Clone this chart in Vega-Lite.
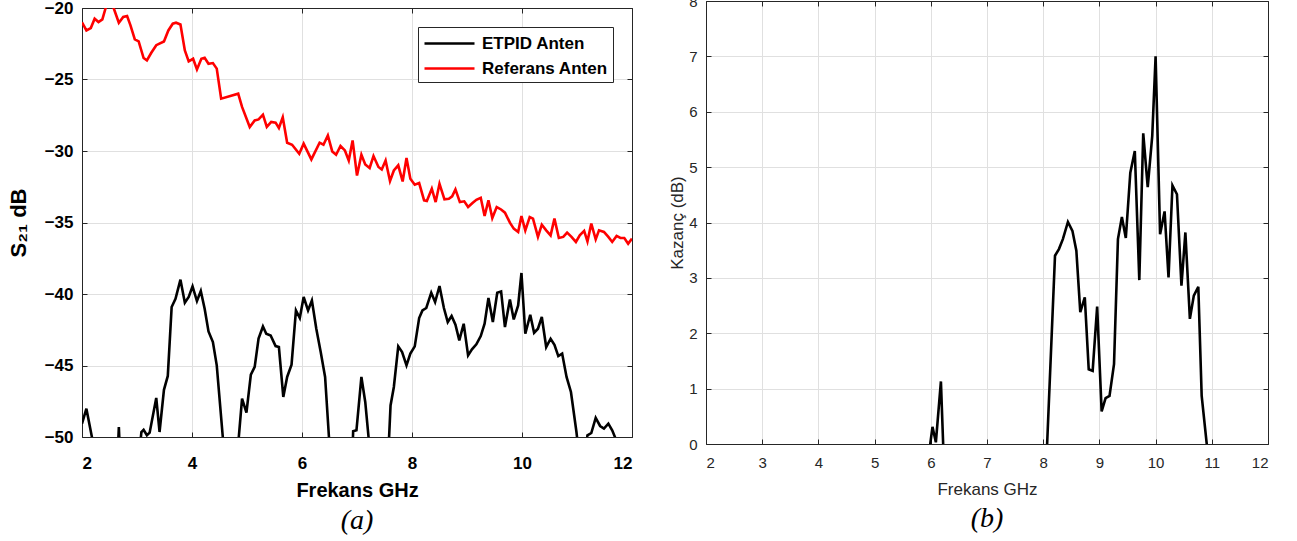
{
  "$schema": "https://vega.github.io/schema/vega-lite/v6.json",
  "background": "white",
  "autosize": {"type": "pad"},
  "padding": {"left": 7, "top": -6, "right": 0, "bottom": 0},
  "config": {
    "view": {"stroke": null},
    "font": "Liberation Sans",
    "axis": {"gridColor": "#e0e0e0", "gridWidth": 1, "domainColor": "#262626", "tickColor": "#262626", "tickSize": -5, "domainWidth": 1}
  },
  "datasets": {
    "s21": [
      {"f": 2.0, "v": -21.0, "s": "Referans Anten"},
      {"f": 2.08, "v": -21.57, "s": "Referans Anten"},
      {"f": 2.16, "v": -21.4, "s": "Referans Anten"},
      {"f": 2.23, "v": -20.75, "s": "Referans Anten"},
      {"f": 2.30, "v": -20.98, "s": "Referans Anten"},
      {"f": 2.37, "v": -20.8, "s": "Referans Anten"},
      {"f": 2.43, "v": -20.0, "s": "Referans Anten"},
      {"f": 2.47, "v": -19.6, "s": "Referans Anten"},
      {"f": 2.53, "v": -19.6, "s": "Referans Anten"},
      {"f": 2.58, "v": -20.05, "s": "Referans Anten"},
      {"f": 2.67, "v": -21.03, "s": "Referans Anten"},
      {"f": 2.75, "v": -20.63, "s": "Referans Anten"},
      {"f": 2.82, "v": -20.56, "s": "Referans Anten"},
      {"f": 2.88, "v": -21.2, "s": "Referans Anten"},
      {"f": 2.96, "v": -22.2, "s": "Referans Anten"},
      {"f": 3.03, "v": -22.34, "s": "Referans Anten"},
      {"f": 3.12, "v": -23.5, "s": "Referans Anten"},
      {"f": 3.18, "v": -23.66, "s": "Referans Anten"},
      {"f": 3.26, "v": -23.13, "s": "Referans Anten"},
      {"f": 3.35, "v": -22.6, "s": "Referans Anten"},
      {"f": 3.49, "v": -22.34, "s": "Referans Anten"},
      {"f": 3.57, "v": -21.57, "s": "Referans Anten"},
      {"f": 3.65, "v": -21.1, "s": "Referans Anten"},
      {"f": 3.71, "v": -21.03, "s": "Referans Anten"},
      {"f": 3.79, "v": -21.15, "s": "Referans Anten"},
      {"f": 3.87, "v": -22.97, "s": "Referans Anten"},
      {"f": 3.94, "v": -23.73, "s": "Referans Anten"},
      {"f": 4.02, "v": -23.55, "s": "Referans Anten"},
      {"f": 4.09, "v": -24.3, "s": "Referans Anten"},
      {"f": 4.17, "v": -23.55, "s": "Referans Anten"},
      {"f": 4.23, "v": -23.48, "s": "Referans Anten"},
      {"f": 4.30, "v": -23.9, "s": "Referans Anten"},
      {"f": 4.38, "v": -23.85, "s": "Referans Anten"},
      {"f": 4.45, "v": -24.24, "s": "Referans Anten"},
      {"f": 4.53, "v": -26.34, "s": "Referans Anten"},
      {"f": 4.84, "v": -25.99, "s": "Referans Anten"},
      {"f": 4.91, "v": -26.92, "s": "Referans Anten"},
      {"f": 5.05, "v": -28.32, "s": "Referans Anten"},
      {"f": 5.14, "v": -27.86, "s": "Referans Anten"},
      {"f": 5.21, "v": -27.79, "s": "Referans Anten"},
      {"f": 5.29, "v": -27.46, "s": "Referans Anten"},
      {"f": 5.36, "v": -28.32, "s": "Referans Anten"},
      {"f": 5.44, "v": -27.97, "s": "Referans Anten"},
      {"f": 5.52, "v": -28.02, "s": "Referans Anten"},
      {"f": 5.58, "v": -28.39, "s": "Referans Anten"},
      {"f": 5.65, "v": -27.65, "s": "Referans Anten"},
      {"f": 5.73, "v": -29.42, "s": "Referans Anten"},
      {"f": 5.82, "v": -29.56, "s": "Referans Anten"},
      {"f": 5.95, "v": -30.19, "s": "Referans Anten"},
      {"f": 6.03, "v": -29.49, "s": "Referans Anten"},
      {"f": 6.17, "v": -30.59, "s": "Referans Anten"},
      {"f": 6.32, "v": -29.42, "s": "Referans Anten"},
      {"f": 6.39, "v": -29.56, "s": "Referans Anten"},
      {"f": 6.47, "v": -28.91, "s": "Referans Anten"},
      {"f": 6.55, "v": -30.03, "s": "Referans Anten"},
      {"f": 6.62, "v": -30.26, "s": "Referans Anten"},
      {"f": 6.70, "v": -29.65, "s": "Referans Anten"},
      {"f": 6.78, "v": -29.96, "s": "Referans Anten"},
      {"f": 6.85, "v": -30.66, "s": "Referans Anten"},
      {"f": 6.92, "v": -29.26, "s": "Referans Anten"},
      {"f": 7.0, "v": -31.72, "s": "Referans Anten"},
      {"f": 7.08, "v": -30.26, "s": "Referans Anten"},
      {"f": 7.15, "v": -30.94, "s": "Referans Anten"},
      {"f": 7.23, "v": -31.19, "s": "Referans Anten"},
      {"f": 7.30, "v": -30.35, "s": "Referans Anten"},
      {"f": 7.39, "v": -31.12, "s": "Referans Anten"},
      {"f": 7.45, "v": -31.29, "s": "Referans Anten"},
      {"f": 7.52, "v": -30.66, "s": "Referans Anten"},
      {"f": 7.60, "v": -32.1, "s": "Referans Anten"},
      {"f": 7.67, "v": -31.36, "s": "Referans Anten"},
      {"f": 7.75, "v": -31.0, "s": "Referans Anten"},
      {"f": 7.83, "v": -32.13, "s": "Referans Anten"},
      {"f": 7.90, "v": -30.49, "s": "Referans Anten"},
      {"f": 7.97, "v": -31.94, "s": "Referans Anten"},
      {"f": 8.05, "v": -32.36, "s": "Referans Anten"},
      {"f": 8.13, "v": -32.24, "s": "Referans Anten"},
      {"f": 8.22, "v": -33.45, "s": "Referans Anten"},
      {"f": 8.27, "v": -33.5, "s": "Referans Anten"},
      {"f": 8.36, "v": -32.64, "s": "Referans Anten"},
      {"f": 8.43, "v": -33.57, "s": "Referans Anten"},
      {"f": 8.50, "v": -32.29, "s": "Referans Anten"},
      {"f": 8.59, "v": -33.38, "s": "Referans Anten"},
      {"f": 8.67, "v": -33.34, "s": "Referans Anten"},
      {"f": 8.73, "v": -33.17, "s": "Referans Anten"},
      {"f": 8.79, "v": -32.68, "s": "Referans Anten"},
      {"f": 8.87, "v": -33.57, "s": "Referans Anten"},
      {"f": 8.95, "v": -33.52, "s": "Referans Anten"},
      {"f": 9.02, "v": -33.92, "s": "Referans Anten"},
      {"f": 9.10, "v": -33.64, "s": "Referans Anten"},
      {"f": 9.17, "v": -33.41, "s": "Referans Anten"},
      {"f": 9.25, "v": -33.27, "s": "Referans Anten"},
      {"f": 9.32, "v": -34.55, "s": "Referans Anten"},
      {"f": 9.39, "v": -33.45, "s": "Referans Anten"},
      {"f": 9.46, "v": -34.69, "s": "Referans Anten"},
      {"f": 9.54, "v": -33.92, "s": "Referans Anten"},
      {"f": 9.62, "v": -34.09, "s": "Referans Anten"},
      {"f": 9.69, "v": -34.31, "s": "Referans Anten"},
      {"f": 9.78, "v": -35.01, "s": "Referans Anten"},
      {"f": 9.85, "v": -35.43, "s": "Referans Anten"},
      {"f": 9.93, "v": -35.66, "s": "Referans Anten"},
      {"f": 9.99, "v": -34.55, "s": "Referans Anten"},
      {"f": 10.06, "v": -35.55, "s": "Referans Anten"},
      {"f": 10.14, "v": -34.62, "s": "Referans Anten"},
      {"f": 10.20, "v": -34.73, "s": "Referans Anten"},
      {"f": 10.29, "v": -36.0, "s": "Referans Anten"},
      {"f": 10.36, "v": -35.15, "s": "Referans Anten"},
      {"f": 10.44, "v": -35.55, "s": "Referans Anten"},
      {"f": 10.52, "v": -35.9, "s": "Referans Anten"},
      {"f": 10.59, "v": -34.73, "s": "Referans Anten"},
      {"f": 10.67, "v": -36.08, "s": "Referans Anten"},
      {"f": 10.75, "v": -36.01, "s": "Referans Anten"},
      {"f": 10.82, "v": -35.71, "s": "Referans Anten"},
      {"f": 10.90, "v": -36.01, "s": "Referans Anten"},
      {"f": 10.98, "v": -36.36, "s": "Referans Anten"},
      {"f": 11.05, "v": -35.9, "s": "Referans Anten"},
      {"f": 11.13, "v": -35.59, "s": "Referans Anten"},
      {"f": 11.19, "v": -36.32, "s": "Referans Anten"},
      {"f": 11.26, "v": -35.08, "s": "Referans Anten"},
      {"f": 11.34, "v": -36.18, "s": "Referans Anten"},
      {"f": 11.40, "v": -35.55, "s": "Referans Anten"},
      {"f": 11.49, "v": -35.66, "s": "Referans Anten"},
      {"f": 11.57, "v": -36.01, "s": "Referans Anten"},
      {"f": 11.64, "v": -36.36, "s": "Referans Anten"},
      {"f": 11.72, "v": -35.94, "s": "Referans Anten"},
      {"f": 11.79, "v": -36.08, "s": "Referans Anten"},
      {"f": 11.86, "v": -36.08, "s": "Referans Anten"},
      {"f": 11.93, "v": -36.48, "s": "Referans Anten"},
      {"f": 12.0, "v": -36.13, "s": "Referans Anten"},
      {"f": 2.0, "v": -49.07, "s": "ETPID Anten"},
      {"f": 2.08, "v": -48.02, "s": "ETPID Anten"},
      {"f": 2.18, "v": -50.0, "s": "ETPID Anten"},
      {"f": 2.25, "v": -51.5, "s": "ETPID Anten"},
      {"f": 2.35, "v": -55, "s": "ETPID Anten"},
      {"f": 2.55, "v": -55, "s": "ETPID Anten"},
      {"f": 2.64, "v": -52, "s": "ETPID Anten"},
      {"f": 2.67, "v": -49.3, "s": "ETPID Anten"},
      {"f": 2.70, "v": -52, "s": "ETPID Anten"},
      {"f": 2.85, "v": -55, "s": "ETPID Anten"},
      {"f": 3.02, "v": -52, "s": "ETPID Anten"},
      {"f": 3.08, "v": -49.65, "s": "ETPID Anten"},
      {"f": 3.12, "v": -49.5, "s": "ETPID Anten"},
      {"f": 3.18, "v": -49.88, "s": "ETPID Anten"},
      {"f": 3.23, "v": -49.7, "s": "ETPID Anten"},
      {"f": 3.35, "v": -47.27, "s": "ETPID Anten"},
      {"f": 3.41, "v": -49.65, "s": "ETPID Anten"},
      {"f": 3.49, "v": -46.7, "s": "ETPID Anten"},
      {"f": 3.56, "v": -45.73, "s": "ETPID Anten"},
      {"f": 3.63, "v": -40.91, "s": "ETPID Anten"},
      {"f": 3.70, "v": -40.33, "s": "ETPID Anten"},
      {"f": 3.79, "v": -39.0, "s": "ETPID Anten"},
      {"f": 3.87, "v": -40.61, "s": "ETPID Anten"},
      {"f": 3.94, "v": -40.21, "s": "ETPID Anten"},
      {"f": 4.01, "v": -39.47, "s": "ETPID Anten"},
      {"f": 4.09, "v": -40.49, "s": "ETPID Anten"},
      {"f": 4.16, "v": -39.79, "s": "ETPID Anten"},
      {"f": 4.23, "v": -41.03, "s": "ETPID Anten"},
      {"f": 4.30, "v": -42.62, "s": "ETPID Anten"},
      {"f": 4.38, "v": -43.36, "s": "ETPID Anten"},
      {"f": 4.45, "v": -44.99, "s": "ETPID Anten"},
      {"f": 4.56, "v": -50.0, "s": "ETPID Anten"},
      {"f": 4.60, "v": -52, "s": "ETPID Anten"},
      {"f": 4.70, "v": -55, "s": "ETPID Anten"},
      {"f": 4.80, "v": -53, "s": "ETPID Anten"},
      {"f": 4.84, "v": -50.5, "s": "ETPID Anten"},
      {"f": 4.91, "v": -47.32, "s": "ETPID Anten"},
      {"f": 4.99, "v": -48.3, "s": "ETPID Anten"},
      {"f": 5.07, "v": -45.64, "s": "ETPID Anten"},
      {"f": 5.14, "v": -45.1, "s": "ETPID Anten"},
      {"f": 5.21, "v": -43.12, "s": "ETPID Anten"},
      {"f": 5.29, "v": -42.27, "s": "ETPID Anten"},
      {"f": 5.35, "v": -42.78, "s": "ETPID Anten"},
      {"f": 5.43, "v": -42.9, "s": "ETPID Anten"},
      {"f": 5.52, "v": -43.64, "s": "ETPID Anten"},
      {"f": 5.58, "v": -43.71, "s": "ETPID Anten"},
      {"f": 5.66, "v": -47.2, "s": "ETPID Anten"},
      {"f": 5.73, "v": -45.8, "s": "ETPID Anten"},
      {"f": 5.81, "v": -44.94, "s": "ETPID Anten"},
      {"f": 5.89, "v": -41.15, "s": "ETPID Anten"},
      {"f": 5.96, "v": -41.68, "s": "ETPID Anten"},
      {"f": 6.03, "v": -40.21, "s": "ETPID Anten"},
      {"f": 6.11, "v": -41.15, "s": "ETPID Anten"},
      {"f": 6.18, "v": -40.45, "s": "ETPID Anten"},
      {"f": 6.26, "v": -42.43, "s": "ETPID Anten"},
      {"f": 6.34, "v": -44.06, "s": "ETPID Anten"},
      {"f": 6.42, "v": -45.8, "s": "ETPID Anten"},
      {"f": 6.49, "v": -50.0, "s": "ETPID Anten"},
      {"f": 6.53, "v": -52, "s": "ETPID Anten"},
      {"f": 6.65, "v": -55, "s": "ETPID Anten"},
      {"f": 6.85, "v": -55, "s": "ETPID Anten"},
      {"f": 6.91, "v": -52, "s": "ETPID Anten"},
      {"f": 6.93, "v": -49.6, "s": "ETPID Anten"},
      {"f": 6.99, "v": -49.53, "s": "ETPID Anten"},
      {"f": 7.08, "v": -45.8, "s": "ETPID Anten"},
      {"f": 7.15, "v": -47.55, "s": "ETPID Anten"},
      {"f": 7.21, "v": -50.0, "s": "ETPID Anten"},
      {"f": 7.25, "v": -52, "s": "ETPID Anten"},
      {"f": 7.40, "v": -55, "s": "ETPID Anten"},
      {"f": 7.55, "v": -53, "s": "ETPID Anten"},
      {"f": 7.58, "v": -50.3, "s": "ETPID Anten"},
      {"f": 7.61, "v": -47.79, "s": "ETPID Anten"},
      {"f": 7.67, "v": -46.5, "s": "ETPID Anten"},
      {"f": 7.75, "v": -43.66, "s": "ETPID Anten"},
      {"f": 7.82, "v": -44.06, "s": "ETPID Anten"},
      {"f": 7.90, "v": -44.99, "s": "ETPID Anten"},
      {"f": 7.97, "v": -44.17, "s": "ETPID Anten"},
      {"f": 8.05, "v": -43.66, "s": "ETPID Anten"},
      {"f": 8.13, "v": -41.68, "s": "ETPID Anten"},
      {"f": 8.19, "v": -41.15, "s": "ETPID Anten"},
      {"f": 8.26, "v": -40.98, "s": "ETPID Anten"},
      {"f": 8.35, "v": -39.91, "s": "ETPID Anten"},
      {"f": 8.42, "v": -40.56, "s": "ETPID Anten"},
      {"f": 8.50, "v": -39.44, "s": "ETPID Anten"},
      {"f": 8.58, "v": -40.98, "s": "ETPID Anten"},
      {"f": 8.65, "v": -41.96, "s": "ETPID Anten"},
      {"f": 8.72, "v": -41.54, "s": "ETPID Anten"},
      {"f": 8.79, "v": -42.15, "s": "ETPID Anten"},
      {"f": 8.86, "v": -43.24, "s": "ETPID Anten"},
      {"f": 8.94, "v": -42.08, "s": "ETPID Anten"},
      {"f": 9.02, "v": -44.29, "s": "ETPID Anten"},
      {"f": 9.09, "v": -43.87, "s": "ETPID Anten"},
      {"f": 9.17, "v": -43.52, "s": "ETPID Anten"},
      {"f": 9.25, "v": -42.94, "s": "ETPID Anten"},
      {"f": 9.32, "v": -42.08, "s": "ETPID Anten"},
      {"f": 9.39, "v": -40.28, "s": "ETPID Anten"},
      {"f": 9.47, "v": -41.96, "s": "ETPID Anten"},
      {"f": 9.55, "v": -39.91, "s": "ETPID Anten"},
      {"f": 9.62, "v": -39.82, "s": "ETPID Anten"},
      {"f": 9.69, "v": -42.31, "s": "ETPID Anten"},
      {"f": 9.78, "v": -40.38, "s": "ETPID Anten"},
      {"f": 9.85, "v": -41.78, "s": "ETPID Anten"},
      {"f": 9.93, "v": -40.8, "s": "ETPID Anten"},
      {"f": 9.99, "v": -38.53, "s": "ETPID Anten"},
      {"f": 10.06, "v": -42.78, "s": "ETPID Anten"},
      {"f": 10.15, "v": -41.45, "s": "ETPID Anten"},
      {"f": 10.22, "v": -42.71, "s": "ETPID Anten"},
      {"f": 10.29, "v": -42.43, "s": "ETPID Anten"},
      {"f": 10.36, "v": -41.61, "s": "ETPID Anten"},
      {"f": 10.44, "v": -43.71, "s": "ETPID Anten"},
      {"f": 10.52, "v": -43.13, "s": "ETPID Anten"},
      {"f": 10.59, "v": -43.55, "s": "ETPID Anten"},
      {"f": 10.66, "v": -44.34, "s": "ETPID Anten"},
      {"f": 10.73, "v": -44.17, "s": "ETPID Anten"},
      {"f": 10.81, "v": -45.8, "s": "ETPID Anten"},
      {"f": 10.89, "v": -46.85, "s": "ETPID Anten"},
      {"f": 10.99, "v": -49.65, "s": "ETPID Anten"},
      {"f": 11.03, "v": -51, "s": "ETPID Anten"},
      {"f": 11.08, "v": -53, "s": "ETPID Anten"},
      {"f": 11.15, "v": -52, "s": "ETPID Anten"},
      {"f": 11.18, "v": -50.2, "s": "ETPID Anten"},
      {"f": 11.19, "v": -49.88, "s": "ETPID Anten"},
      {"f": 11.26, "v": -49.72, "s": "ETPID Anten"},
      {"f": 11.34, "v": -48.67, "s": "ETPID Anten"},
      {"f": 11.42, "v": -49.23, "s": "ETPID Anten"},
      {"f": 11.49, "v": -49.41, "s": "ETPID Anten"},
      {"f": 11.57, "v": -49.07, "s": "ETPID Anten"},
      {"f": 11.64, "v": -49.53, "s": "ETPID Anten"},
      {"f": 11.69, "v": -50.0, "s": "ETPID Anten"},
      {"f": 11.75, "v": -52, "s": "ETPID Anten"},
      {"f": 11.85, "v": -55, "s": "ETPID Anten"},
      {"f": 12.0, "v": -55, "s": "ETPID Anten"}
    ],
    "gain": [
      {"f": 2.0, "v": -2},
      {"f": 5.95, "v": -0.3},
      {"f": 5.99, "v": 0},
      {"f": 6.03, "v": 0.31},
      {"f": 6.09, "v": 0.03},
      {"f": 6.18, "v": 1.13},
      {"f": 6.22, "v": 0},
      {"f": 6.26, "v": -1.1},
      {"f": 7.9, "v": -1.5},
      {"f": 8.0, "v": -1.6},
      {"f": 8.07, "v": 0},
      {"f": 8.21, "v": 3.40},
      {"f": 8.28, "v": 3.52},
      {"f": 8.35, "v": 3.70},
      {"f": 8.44, "v": 4.01},
      {"f": 8.52, "v": 3.85},
      {"f": 8.59, "v": 3.49},
      {"f": 8.66, "v": 2.38},
      {"f": 8.74, "v": 2.65},
      {"f": 8.81, "v": 1.35},
      {"f": 8.88, "v": 1.32},
      {"f": 8.96, "v": 2.48},
      {"f": 9.04, "v": 0.59},
      {"f": 9.11, "v": 0.83},
      {"f": 9.18, "v": 0.87},
      {"f": 9.26, "v": 1.44},
      {"f": 9.33, "v": 3.70},
      {"f": 9.40, "v": 4.10},
      {"f": 9.47, "v": 3.72},
      {"f": 9.55, "v": 4.90},
      {"f": 9.63, "v": 5.29},
      {"f": 9.71, "v": 2.96},
      {"f": 9.78, "v": 5.61},
      {"f": 9.86, "v": 4.64},
      {"f": 9.94, "v": 5.56},
      {"f": 10.0, "v": 7.0},
      {"f": 10.08, "v": 3.79},
      {"f": 10.16, "v": 4.20},
      {"f": 10.23, "v": 3.01},
      {"f": 10.30, "v": 4.67},
      {"f": 10.38, "v": 4.51},
      {"f": 10.46, "v": 2.86},
      {"f": 10.53, "v": 3.82},
      {"f": 10.61, "v": 2.26},
      {"f": 10.68, "v": 2.68},
      {"f": 10.76, "v": 2.84},
      {"f": 10.82, "v": 0.87},
      {"f": 10.91, "v": 0},
      {"f": 11.0, "v": -0.9},
      {"f": 12.0, "v": -2}
    ]
  },
  "hconcat": [
    {
      "width": 550,
      "height": 429,
      "data": {"name": "s21"},
      "title": {"text": "(a)", "orient": "bottom", "anchor": "middle", "font": "Liberation Serif", "fontStyle": "italic", "fontWeight": "normal", "fontSize": 28, "color": "black", "offset": 7},
      "layer": [
        {
          "mark": {"type": "line", "clip": true, "strokeWidth": 2.6},
          "encoding": {
            "x": {"field": "f", "type": "quantitative", "scale": {"domain": [2, 12], "nice": false, "zero": false},
              "axis": {"orient": "bottom", "values": [2, 4, 6, 8, 10, 12], "grid": true, "title": "Frekans GHz", "labelFont": "Liberation Sans", "labelFontWeight": "bold", "labelFontSize": 17, "labelColor": "black", "labelPadding": 23, "titleFont": "Liberation Sans", "titleFontWeight": "bold", "titleFontSize": 20, "titleColor": "black", "titlePadding": 9}},
            "y": {"field": "v", "type": "quantitative", "scale": {"domain": [-50, -20], "nice": false, "zero": false},
              "axis": {"orient": "left", "values": [-50, -45, -40, -35, -30, -25, -20], "grid": true, "title": "S₂₁ dB", "labelFont": "Liberation Sans", "labelFontWeight": "bold", "labelFontSize": 17, "labelColor": "black", "labelPadding": 14, "titleFont": "Liberation Sans", "titleFontWeight": "bold", "titleFontSize": 22, "titleColor": "black", "titlePadding": 14}},
            "color": {"field": "s", "type": "nominal", "scale": {"domain": ["ETPID Anten", "Referans Anten"], "range": ["#000000", "#ff0000"]},
              "legend": {"orient": "none", "legendX": 336, "legendY": 26, "title": null, "fillColor": "white", "strokeColor": "#262626", "padding": 5, "symbolType": "M-1,0H4", "symbolSize": 400, "symbolStrokeWidth": 2.6, "labelFont": "Liberation Sans", "labelFontWeight": "bold", "labelFontSize": 17, "labelColor": "black", "rowPadding": 5, "labelOffset": 36}}
          }
        },
        {
          "mark": {"type": "line", "opacity": 0, "clip": true},
          "encoding": {
            "x": {"field": "f", "type": "quantitative", "scale": {"domain": [2, 12], "nice": false, "zero": false},
              "axis": {"orient": "top", "values": [2, 4, 6, 8, 10, 12], "grid": false, "labels": false, "title": null}},
            "y": {"field": "v", "type": "quantitative", "scale": {"domain": [-50, -20], "nice": false, "zero": false},
              "axis": {"orient": "right", "values": [-50, -45, -40, -35, -30, -25, -20], "grid": false, "labels": false, "title": null}}
          }
        }
      ],
      "resolve": {"axis": {"x": "independent", "y": "independent"}}
    },
    {
      "width": 562,
      "height": 443,
      "data": {"name": "gain"},
      "title": {"text": "(b)", "orient": "bottom", "anchor": "middle", "font": "Liberation Serif", "fontStyle": "italic", "fontWeight": "normal", "fontSize": 28, "color": "black", "offset": 8},
      "layer": [
        {
          "mark": {"type": "line", "clip": true, "strokeWidth": 2.6, "color": "black"},
          "encoding": {
            "x": {"field": "f", "type": "quantitative", "scale": {"domain": [2, 12], "nice": false, "zero": false},
              "axis": {"orient": "bottom", "values": [2, 3, 4, 5, 6, 7, 8, 9, 10, 11, 12], "grid": true, "title": "Frekans GHz", "labelFont": "Liberation Sans", "labelFontWeight": "normal", "labelFontSize": 15, "labelColor": "#262626", "labelPadding": 16, "titleFont": "Liberation Sans", "titleFontWeight": "normal", "titleFontSize": 17, "titleColor": "#262626", "titlePadding": 11}},
            "y": {"field": "v", "type": "quantitative", "scale": {"domain": [0, 8], "nice": false, "zero": false},
              "axis": {"orient": "left", "values": [0, 1, 2, 3, 4, 5, 6, 7, 8], "grid": true, "title": "Kazanç (dB)", "labelFont": "Liberation Sans", "labelFontWeight": "normal", "labelFontSize": 15, "labelColor": "#262626", "labelPadding": 14, "titleFont": "Liberation Sans", "titleFontWeight": "normal", "titleFontSize": 17, "titleColor": "#262626", "titlePadding": 2}}
          }
        },
        {
          "mark": {"type": "line", "opacity": 0, "clip": true},
          "encoding": {
            "x": {"field": "f", "type": "quantitative", "scale": {"domain": [2, 12], "nice": false, "zero": false},
              "axis": {"orient": "top", "values": [2, 3, 4, 5, 6, 7, 8, 9, 10, 11, 12], "grid": false, "labels": false, "title": null}},
            "y": {"field": "v", "type": "quantitative", "scale": {"domain": [0, 8], "nice": false, "zero": false},
              "axis": {"orient": "right", "values": [0, 1, 2, 3, 4, 5, 6, 7, 8], "grid": false, "labels": false, "title": null}}
          }
        }
      ],
      "resolve": {"axis": {"x": "independent", "y": "independent"}}
    }
  ],
  "spacing": 74,
  "bounds": "flush",
  "center": true
}
